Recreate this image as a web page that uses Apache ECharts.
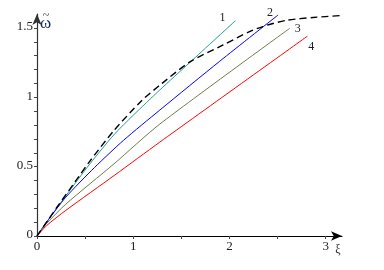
<!DOCTYPE html>
<html><head><meta charset="utf-8">
<script src="https://cdn.jsdelivr.net/npm/echarts@6/dist/echarts.min.js"></script>
<style>html,body{margin:0;padding:0;background:#fff}#c{width:384px;height:270px}</style>
</head><body><div id="c"></div>
<script>
// Data
var dashX = [0, 0.2, 0.4, 0.55, 0.8, 1.087, 1.3, 1.589, 1.935, 2.21, 2.395, 2.6, 2.87, 3.146];
var dashY = [0, 0.2, 0.395, 0.54, 0.76, 0.975, 1.1, 1.255, 1.377, 1.473, 1.521, 1.555, 1.575, 1.588];
var c1X = [0, 0.1, 0.3, 0.55, 0.8, 1.0, 1.277, 1.589, 2.063];
var c1Y = [0, 0.1, 0.29, 0.52, 0.73, 0.87, 1.053, 1.251, 1.552];
var c2X = [0, 0.1, 0.3, 0.6, 0.9, 1.277, 1.9, 2.506];
var c2Y = [0, 0.1, 0.28, 0.495, 0.69, 0.908, 1.26, 1.593];
var c3X = [0, 0.1, 0.3, 0.8, 1.277, 2.627];
var c3Y = [0, 0.09, 0.23, 0.52, 0.807, 1.497];
var c4X = [0, 0.1, 0.3, 0.81, 1.277, 2.81];
var c4Y = [0, 0.075, 0.185, 0.44, 0.677, 1.44];
var curveNames = ['1', '2', '3', '4'];
var xLabelValues = [0, 1, 2, 3];
var xTickValues = [0, 0.5, 1, 1.5, 2, 2.5, 3];
var yLabelValues = [0, 0.5, 1, 1.5];
var yTickValues = [0, 0.1, 0.2, 0.3, 0.4, 0.5, 0.6, 0.7, 0.8, 0.9, 1, 1.1, 1.2, 1.3, 1.4, 1.5];
var yName = 'ω';
var yNameAccent = '~';
var xName = 'ξ';

function pairs(xs, ys) { return xs.map(function (x, i) { return [x, ys[i]]; }); }

var serif = '"Liberation Serif"';
var colors = ['#20a096', '#0000ff', '#6e7c4c', '#ff0000'];
var curves = [[c1X, c1Y], [c2X, c2Y], [c3X, c3Y], [c4X, c4Y]];

var series = curves.map(function (c, i) {
  return {
    type: 'line', data: pairs(c[0], c[1]), showSymbol: false, symbol: 'none',
    smooth: 0.25, silent: true,
    lineStyle: { color: colors[i], width: 1 }, z: 3
  };
});
series.push({
  type: 'line', data: pairs(dashX, dashY), showSymbol: false, symbol: 'none',
  smooth: 0.25, silent: true,
  lineStyle: { color: '#000', width: 1.4, type: [7, 4] }, z: 4
});

var chart = echarts.init(document.getElementById('c'), null, { renderer: 'canvas' });
chart.setOption({
  animation: false,
  backgroundColor: '#fff',
  grid: { left: 37, right: 42, top: 14, bottom: 34, containLabel: false },
  xAxis: {
    type: 'value', min: 0, max: 3.17,
    axisLine: { show: true, onZero: false, symbol: ['none', 'arrow'], symbolSize: [7, 11], lineStyle: { color: '#000', width: 1.2 } },
    axisTick: { show: true, customValues: xTickValues, length: 3, inside: false, lineStyle: { color: '#444' } },
    axisLabel: { show: false },
    splitLine: { show: false }
  },
  yAxis: {
    type: 'value', min: 0, max: 1.6,
    axisLine: { show: true, onZero: false, symbol: ['none', 'arrow'], symbolSize: [7, 11], lineStyle: { color: '#333', width: 1.2 } },
    axisTick: { show: true, customValues: yTickValues, length: 3, inside: false, lineStyle: { color: '#444' } },
    axisLabel: { show: false },
    splitLine: { show: false }
  },
  series: series
});

function px(x, y) { return chart.convertToPixel({ xAxisIndex: 0, yAxisIndex: 0 }, [x, y]); }
function txt(x, y, s, size, align, fill) {
  return { type: 'text', x: x, y: y, silent: true,
    style: { text: s, fill: fill || '#222', font: size + 'px ' + serif, textAlign: align, textVerticalAlign: 'middle' } };
}

var graphics = [];
// tick labels
xLabelValues.forEach(function (v) { var p = px(v, 0); graphics.push(txt(p[0], p[1] + 11, String(v), 13, 'center')); });
yLabelValues.forEach(function (v) { var p = px(0, v); graphics.push(txt(p[0] - 4, p[1] - 1, String(v), 13, 'right')); });
// curve number labels placed relative to each curve's end point
var labelOffsets = [[-13, -3], [-8, -2], [8, 1], [4, 11]];
curves.forEach(function (c, i) {
  var n = c[0].length;
  var p = px(c[0][n - 1], c[1][n - 1]);
  graphics.push(txt(p[0] + labelOffsets[i][0], p[1] + labelOffsets[i][1], curveNames[i], 12, 'center'));
});
var yTopPx = px(0, 1.6);
graphics.push(txt(yTopPx[0] + 3, yTopPx[1] + 10, yName, 17, 'left', '#1a2f5a'));
graphics.push(txt(yTopPx[0] + 9, yTopPx[1] + 2, yNameAccent, 12, 'center', '#1a2f5a'));
var xEndPx = px(3.17, 0);
graphics.push(txt(xEndPx[0] - 4, xEndPx[1] + 14, xName, 12, 'center'));
chart.setOption({ graphic: graphics });
</script></body></html>
